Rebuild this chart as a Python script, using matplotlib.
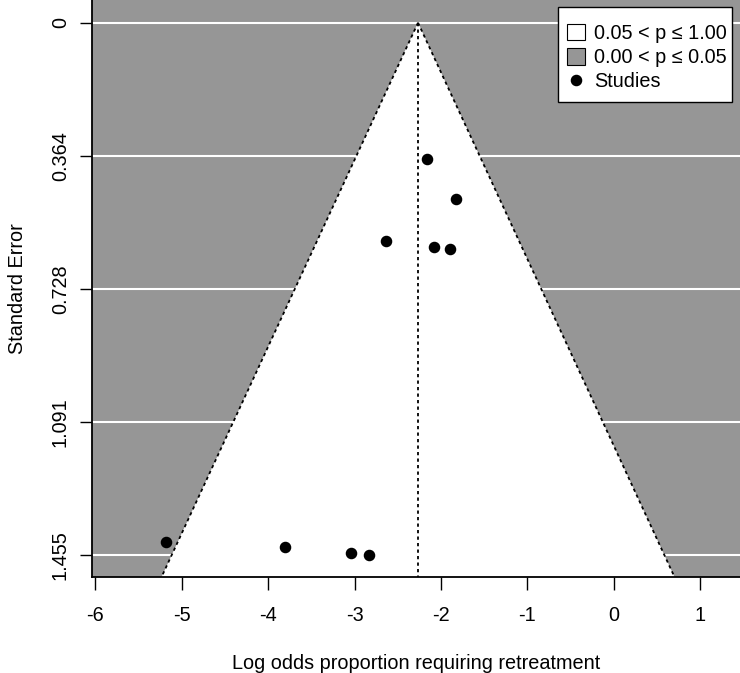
#!/usr/bin/env python3
"""Contour-enhanced funnel plot: log odds proportion requiring retreatment."""

import numpy as np
import matplotlib

matplotlib.use("Agg")
import matplotlib.pyplot as plt
from matplotlib.lines import Line2D
from matplotlib.patches import Patch, Rectangle

plt.rcParams["font.family"] = ["Liberation Sans", "DejaVu Sans"]

# study estimates (log odds) and standard errors
log_odds = [-2.166, -1.827, -2.640, -2.078, -1.900, -5.185, -3.809, -3.045, -2.837]
std_err = [0.373, 0.4825, 0.597, 0.613, 0.619, 1.419, 1.431, 1.448, 1.455]
pooled = -2.266

x_ticks = [-6, -5, -4, -3, -2, -1, 0, 1]
y_ticks = [0, 0.364, 0.728, 1.091, 1.455]
y_tick_labels = ["0", "0.364", "0.728", "1.091", "1.455"]
legend_labels = ["0.05 < p \u2264 1.00", "0.00 < p \u2264 0.05", "Studies"]

GRAY = "#969696"
FS = 14.3

fig = plt.figure(figsize=(7.4, 6.73), dpi=100)
W, H = 740, 673
ax = fig.add_axes([92 / W, (H - 577) / H, (W - 92) / W, 577 / H])

xlim = (-6.038, 1.459)
ylim = (1.514, -0.062)
ax.set_xlim(*xlim)
ax.set_ylim(*ylim)
ax.set_facecolor(GRAY)

# white region: 0.05 < p <= 1 around the pooled estimate
se_bot = ylim[0]
half = 1.96 * se_bot
ax.fill([pooled, pooled - half, pooled + half], [0, se_bot, se_bot],
        color="white", zorder=1, lw=0)

for t in y_ticks:
    ax.axhline(t, color="white", lw=1.5, zorder=0.5)

dots = (0, (1.8, 1.8))
ax.plot([pooled, pooled - half], [0, se_bot], color="black", ls=dots, lw=1.3, zorder=2)
ax.plot([pooled, pooled + half], [0, se_bot], color="black", ls=dots, lw=1.3, zorder=2)
ax.plot([pooled, pooled], [0, se_bot], color="black", ls=dots, lw=1.3, zorder=2)

ax.plot(log_odds, std_err, "o", color="black", ms=7.3, zorder=3)

ax.set_xticks(x_ticks)
ax.set_xticklabels([str(v) for v in x_ticks], fontsize=FS)
ax.set_yticks(y_ticks)
ax.set_yticklabels(y_tick_labels, fontsize=FS, rotation=90, va="center")
ax.tick_params(axis="both", length=9, width=1, color="black")
ax.tick_params(axis="y", pad=7)
ax.tick_params(axis="x", pad=12)

for side in ("top", "right"):
    ax.spines[side].set_visible(False)
for side in ("left", "bottom"):
    ax.spines[side].set_linewidth(1.3)

ax.set_xlabel("Log odds proportion requiring retreatment", fontsize=FS, labelpad=21)
ax.set_ylabel("Standard Error", fontsize=FS, labelpad=17)

# legend box drawn by hand (R-style padding), entries without frame
fig.patches.append(Rectangle((558 / W, 1 - 102 / H), 174 / W, 95 / H,
                             transform=fig.transFigure, facecolor="white",
                             edgecolor="black", lw=1.0, zorder=4))
handles = [
    Patch(facecolor="white", edgecolor="black", lw=0.8),
    Patch(facecolor=GRAY, edgecolor="black", lw=0.8),
    Line2D([], [], marker="o", color="black", ls="none", ms=7.3),
]
leg = fig.legend(handles, legend_labels, loc="upper left",
                 bbox_to_anchor=(567 / W, 1 - 24 / H), fontsize=FS,
                 frameon=False, handlelength=0.9, handleheight=0.9,
                 handletextpad=0.45, labelspacing=0.25, borderpad=0,
                 borderaxespad=0)
leg.set_zorder(5)

fig.savefig("out.png", dpi=100)
